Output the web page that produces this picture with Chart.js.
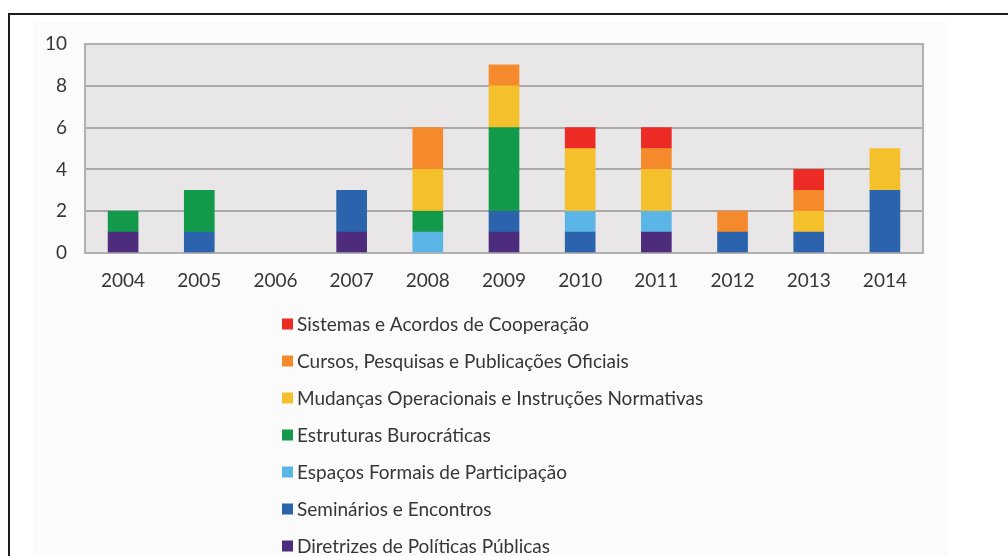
<!DOCTYPE html>
<html>
<head>
<meta charset="utf-8">
<script src="https://cdn.jsdelivr.net/npm/chart.js@4/dist/chart.umd.min.js"></script>
<style>
  html, body { margin: 0; padding: 0; background: #ffffff; overflow: hidden; }
  #frame { position: absolute; left: 8px; top: 13px; width: 1100px; height: 700px; border: 2px solid #1e1e1e; box-sizing: border-box; }
  #panel { position: absolute; left: 33px; top: 22px; width: 915px; height: 560px; background: #fbfbfb; }
  #wrap { position: absolute; left: 0; top: 0; width: 1008px; height: 556px; }
</style>
</head>
<body>
<div id="frame"></div>
<div id="panel"></div>
<div id="wrap"><canvas id="c" width="1008" height="556"></canvas></div>
<script>
// Years on the x axis
const years = ['2004','2005','2006','2007','2008','2009','2010','2011','2012','2013','2014'];

// Counts per category, stacked bottom to top
const diretrizes  = [1,0,0,1,0,1,0,1,0,0,0];
const seminarios  = [0,1,0,2,0,1,1,0,1,1,3];
const espacos     = [0,0,0,0,1,0,1,1,0,0,0];
const estruturas  = [1,2,0,0,1,4,0,0,0,0,0];
const mudancas    = [0,0,0,0,2,2,3,2,0,1,2];
const cursos      = [0,0,0,0,2,1,0,1,1,1,0];
const sistemas    = [0,0,0,0,0,0,1,1,0,1,0];

const yTicks = [0, 2, 4, 6, 8, 10];

const FONT = 'Lato, "Open Sans", sans-serif';
const TEXT = '#363636';

const series = [
  { label: 'Diretrizes de Políticas Públicas', data: diretrizes, color: '#4d2c7d' },
  { label: 'Seminários e Encontros', data: seminarios, color: '#2b64ad' },
  { label: 'Espaços Formais de Participação', data: espacos, color: '#5cb5e7' },
  { label: 'Estruturas Burocráticas', data: estruturas, color: '#129a4a' },
  { label: 'Mudanças Operacionais e Instruções Normativas', data: mudancas, color: '#f4c02c' },
  { label: 'Cursos, Pesquisas e Publicações Oficiais', data: cursos, color: '#f58a2d' },
  { label: 'Sistemas e Acordos de Cooperação', data: sistemas, color: '#ec2b25' }
];

// Grey plot background and frame around the plotting area
const plotArea = {
  id: 'plotArea',
  beforeDraw(chart) {
    const { ctx, chartArea: a } = chart;
    ctx.save();
    ctx.fillStyle = '#e8e6e6';
    ctx.fillRect(a.left, a.top, a.right - a.left, a.bottom - a.top);
    ctx.restore();
  },
  beforeDatasetsDraw(chart) {
    const { ctx, chartArea: a } = chart;
    ctx.save();
    ctx.strokeStyle = '#b1b1b1';
    ctx.lineWidth = 2;
    ctx.strokeRect(a.left, a.top, a.right - a.left, a.bottom - a.top);
    ctx.restore();
  }
};

// Vertical legend below the axis, top series listed first
const columnLegend = {
  id: 'columnLegend',
  afterDraw(chart) {
    const { ctx } = chart;
    const x0 = 282, y0 = 324, step = 37, box = 11;
    ctx.save();
    ctx.font = '19px ' + FONT;
    ctx.textBaseline = 'middle';
    ctx.textAlign = 'left';
    const ds = chart.data.datasets.slice().reverse();
    ds.forEach((d, i) => {
      const y = y0 + i * step;
      ctx.fillStyle = d.backgroundColor;
      ctx.fillRect(x0, y - box / 2, box, box);
      ctx.fillStyle = TEXT;
      ctx.fillText(d.label, x0 + 15, y + 1);
    });
    ctx.restore();
  }
};

new Chart(document.getElementById('c'), {
  type: 'bar',
  data: {
    labels: years,
    datasets: series.map(s => ({
      label: s.label,
      // empty segments are left out so no hairline is drawn
      data: s.data.map(v => (v === 0 ? null : v)),
      backgroundColor: s.color,
      borderWidth: 0,
      barThickness: 30
    }))
  },
  options: {
    responsive: false,
    animation: false,
    layout: { padding: { left: 0, right: 85, top: 44, bottom: 0 } },
    plugins: {
      legend: { display: false },
      tooltip: { enabled: false },
      title: { display: false }
    },
    scales: {
      x: {
        stacked: true,
        grid: { display: false, drawTicks: false },
        border: { display: false },
        ticks: { color: TEXT, font: { family: FONT, size: 19 }, padding: 16, maxRotation: 0 },
        afterFit(s) { s.height = 303; }
      },
      y: {
        stacked: true,
        min: 0,
        max: 10,
        afterBuildTicks(s) { s.ticks = yTicks.map(v => ({ value: v })); },
        grid: { color: '#a9a9a9', lineWidth: 2, drawTicks: false },
        border: { display: false },
        ticks: { color: TEXT, font: { family: FONT, size: 19 }, padding: 18 },
        afterFit(s) { s.width = 85; }
      }
    }
  },
  plugins: [plotArea, columnLegend]
});
</script>
</body>
</html>
